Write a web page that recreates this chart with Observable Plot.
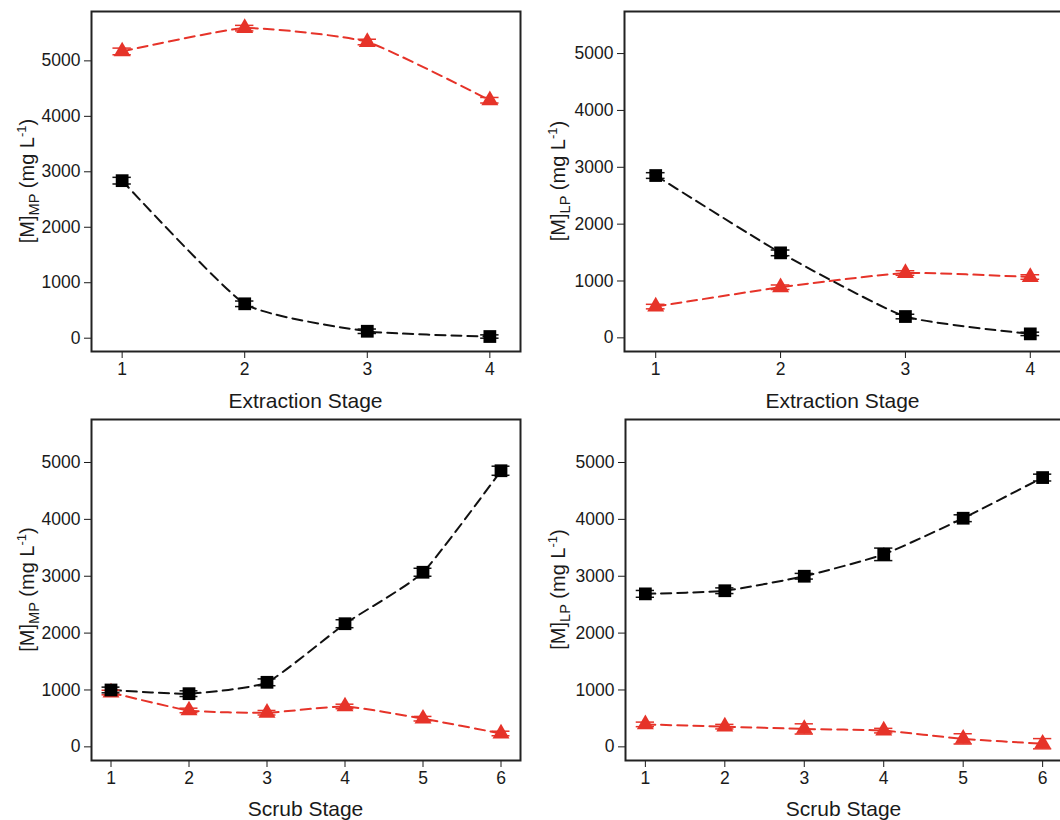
<!DOCTYPE html>
<html>
<head>
<meta charset="utf-8">
<script src="https://cdn.jsdelivr.net/npm/d3@7"></script>
<script src="https://cdn.jsdelivr.net/npm/@observablehq/plot@0.6"></script>
<style>
  body { margin: 0; background: #fff; }
  #wrap { position: relative; width: 1060px; height: 820px; overflow: hidden; background: #fff; }
  .panel { position: absolute; }
  .panel svg { max-width: none !important; overflow: visible; }
</style>
</head>
<body>
<div id="wrap"></div>
<script>
// ---- data ----
const extStages = [1, 2, 3, 4];
const extMP_black = [2840, 620, 125, 30];
const extMP_blackErr = [60, 50, 40, 30];
const extMP_red = [5170, 5590, 5340, 4290];
const extMP_redErr = [60, 50, 50, 50];

const extLP_black = [2855, 1495, 375, 70];
const extLP_blackErr = [50, 50, 40, 30];
const extLP_red = [550, 890, 1140, 1070];
const extLP_redErr = [40, 40, 40, 40];

const scrubStages = [1, 2, 3, 4, 5, 6];
const scrMP_black = [1000, 935, 1135, 2165, 3070, 4855];
const scrMP_blackErr = [50, 50, 60, 70, 70, 80];
const scrMP_red = [955, 640, 600, 710, 495, 235];
const scrMP_redErr = [40, 40, 40, 40, 40, 40];

const scrLP_black = [2690, 2745, 3000, 3385, 4020, 4735];
const scrLP_blackErr = [60, 50, 50, 110, 60, 60];
const scrLP_red = [395, 355, 315, 285, 140, 55];
const scrLP_redErr = [40, 40, 90, 40, 90, 90];

const yTicks = [0, 1000, 2000, 3000, 4000, 5000];

const RED = "#e63329";
const FONT = "'Liberation Sans', Arial, sans-serif";

function rows(stages, vals, errs) {
  return stages.map((s, i) => ({stage: s, v: vals[i], e: errs[i]}));
}

function panel(cfg) {
  const black = rows(cfg.stages, cfg.black, cfg.blackErr);
  const red = rows(cfg.stages, cfg.red, cfg.redErr);
  const ch = cfg.capHalf;
  const errMarks = (data, color) => [
    Plot.ruleX(data, {x: "stage", y1: d => d.v - d.e, y2: d => d.v + d.e, stroke: color, strokeWidth: 1.5}),
    Plot.ruleY(data, {y: d => d.v + d.e, x1: d => d.stage - ch, x2: d => d.stage + ch, stroke: color, strokeWidth: 1.5}),
    Plot.ruleY(data, {y: d => d.v - d.e, x1: d => d.stage - ch, x2: d => d.stage + ch, stroke: color, strokeWidth: 1.5})
  ];
  const lineOpts = {x: "stage", y: "v", strokeWidth: 2, strokeDasharray: "10,6", curve: "cardinal", tension: 0.5};
  const chart = Plot.plot({
    width: cfg.width,
    height: cfg.height,
    marginLeft: cfg.ml,
    marginRight: cfg.mr,
    marginTop: cfg.mt,
    marginBottom: cfg.mb,
    style: {fontFamily: FONT, fontSize: "17.5px", color: "#1a1a1a", background: "transparent", overflow: "visible"},
    x: {domain: cfg.xDomain, ticks: cfg.stages, tickFormat: d => String(d), tickSize: 7, tickPadding: 4, label: null},
    y: {domain: cfg.yDomain, ticks: yTicks, tickFormat: d => String(d), tickSize: 7, tickPadding: 4, label: null},
    marks: [
      Plot.line(red, {...lineOpts, stroke: RED}),
      Plot.line(black, {...lineOpts, stroke: "#111"}),
      ...errMarks(red, RED),
      ...errMarks(black, "#111"),
      Plot.dot(red, {x: "stage", y: "v", symbol: "triangle", r: 6.3, fill: RED, stroke: "none"}),
      Plot.dot(black, {x: "stage", y: "v", symbol: "square", r: 7.2, fill: "#000", stroke: "none"}),
      Plot.frame({stroke: "#222", strokeWidth: 2})
    ]
  });
  chart.style.maxWidth = "none";
  chart.style.overflow = "visible";
  const svg = d3.select(chart);
  // y-axis label with subscript / superscript
  const plotMidY = cfg.mt + (cfg.height - cfg.mt - cfg.mb) / 2;
  const t = svg.append("text")
    .attr("transform", `translate(${cfg.ylabX},${plotMidY}) rotate(-90)`)
    .attr("text-anchor", "middle")
    .attr("font-family", FONT)
    .attr("font-size", 20)
    .attr("fill", "#1a1a1a");
  t.append("tspan").text("[M]");
  t.append("tspan").attr("font-size", 14.5).attr("dy", 5).text(cfg.ySub);
  t.append("tspan").attr("dy", -5).text(" (mg L");
  t.append("tspan").attr("font-size", 13).attr("dy", -8).text("-1");
  t.append("tspan").attr("dy", 8).text(")");
  // x-axis label
  const plotRight = cfg.width - cfg.mr;
  svg.append("text")
    .attr("x", (cfg.ml + plotRight) / 2)
    .attr("y", cfg.height - cfg.mb + cfg.xlabOff)
    .attr("text-anchor", "middle")
    .attr("font-family", FONT)
    .attr("font-size", 21)
    .attr("fill", "#1a1a1a")
    .text(cfg.xLabel);
  const div = document.createElement("div");
  div.className = "panel";
  div.style.left = cfg.left + "px";
  div.style.top = cfg.top + "px";
  div.style.width = cfg.width + "px";
  div.style.height = cfg.height + "px";
  div.appendChild(chart);
  document.getElementById("wrap").appendChild(div);
}

panel({left: 0, top: 0, width: 530, height: 410, ml: 91, mr: 10, mt: 11, mb: 59,
  stages: extStages, black: extMP_black, blackErr: extMP_blackErr, red: extMP_red, redErr: extMP_redErr,
  xDomain: [0.75, 4.25], yDomain: [-240, 5890], capHalf: 0.075, ySub: "MP", ylabX: 34, xlabOff: 57, xLabel: "Extraction Stage"});

panel({left: 530, top: 0, width: 540, height: 410, ml: 94, mr: 9, mt: 11, mb: 59,
  stages: extStages, black: extLP_black, blackErr: extLP_blackErr, red: extLP_red, redErr: extLP_redErr,
  xDomain: [0.75, 4.25], yDomain: [-240, 5740], capHalf: 0.075, ySub: "LP", ylabX: 35, xlabOff: 57, xLabel: "Extraction Stage"});

panel({left: 0, top: 410, width: 530, height: 410, ml: 91, mr: 10, mt: 9, mb: 60,
  stages: scrubStages, black: scrMP_black, blackErr: scrMP_blackErr, red: scrMP_red, redErr: scrMP_redErr,
  xDomain: [0.75, 6.25], yDomain: [-240, 5756], capHalf: 0.115, ySub: "MP", ylabX: 34, xlabOff: 56, xLabel: "Scrub Stage"});

panel({left: 530, top: 410, width: 540, height: 410, ml: 95, mr: 8, mt: 9, mb: 60,
  stages: scrubStages, black: scrLP_black, blackErr: scrLP_blackErr, red: scrLP_red, redErr: scrLP_redErr,
  xDomain: [0.75, 6.25], yDomain: [-240, 5756], capHalf: 0.115, ySub: "LP", ylabX: 35, xlabOff: 56, xLabel: "Scrub Stage"});
</script>
</body>
</html>
